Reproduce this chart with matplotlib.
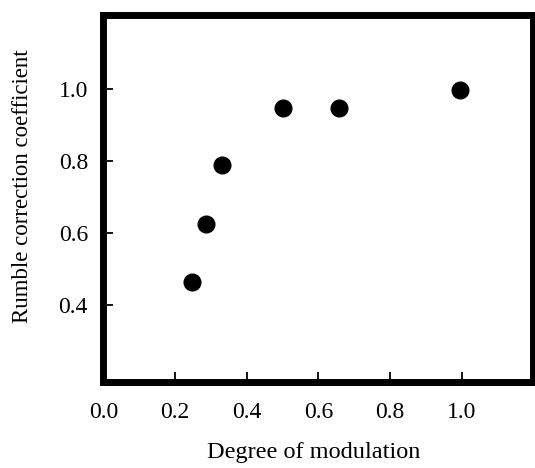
import matplotlib.pyplot as plt

# data
modulation = [0.247, 0.286, 0.330, 0.502, 0.658, 0.995]
coefficient = [0.465, 0.626, 0.788, 0.949, 0.949, 0.997]
x_ticks = [0.0, 0.2, 0.4, 0.6, 0.8, 1.0]
y_ticks = [0.4, 0.6, 0.8, 1.0]

plt.rcParams['font.family'] = ['Liberation Serif', 'DejaVu Serif']

fig = plt.figure(figsize=(5.35, 4.68), dpi=100)
ax = fig.add_axes([0.193, 0.183, 0.8025, 0.784])

ax.plot(modulation, coefficient, 'o', color='black', markersize=12, clip_on=False)

ax.set_xlim(0.0, 1.197)
ax.set_ylim(0.185, 1.205)
ax.set_xticks(x_ticks)
ax.set_yticks(y_ticks)
ax.set_xticklabels([f"{t:.1f}" for t in x_ticks])
ax.set_yticklabels([f"{t:.1f}" for t in y_ticks])

for s in ax.spines.values():
    s.set_linewidth(5)
ax.tick_params(direction='in', length=7, width=1.3, labelsize=17)
ax.tick_params(axis='x', pad=14)
ax.tick_params(axis='y', pad=11)

ax.set_xlabel("Degree of modulation", fontsize=17.5)
ax.set_ylabel("Rumble correction coefficient", fontsize=16.5)
ax.xaxis.set_label_coords(0.489, -0.162)
ax.yaxis.set_label_coords(-0.164, 0.534)

fig.savefig("out.png", dpi=100)
